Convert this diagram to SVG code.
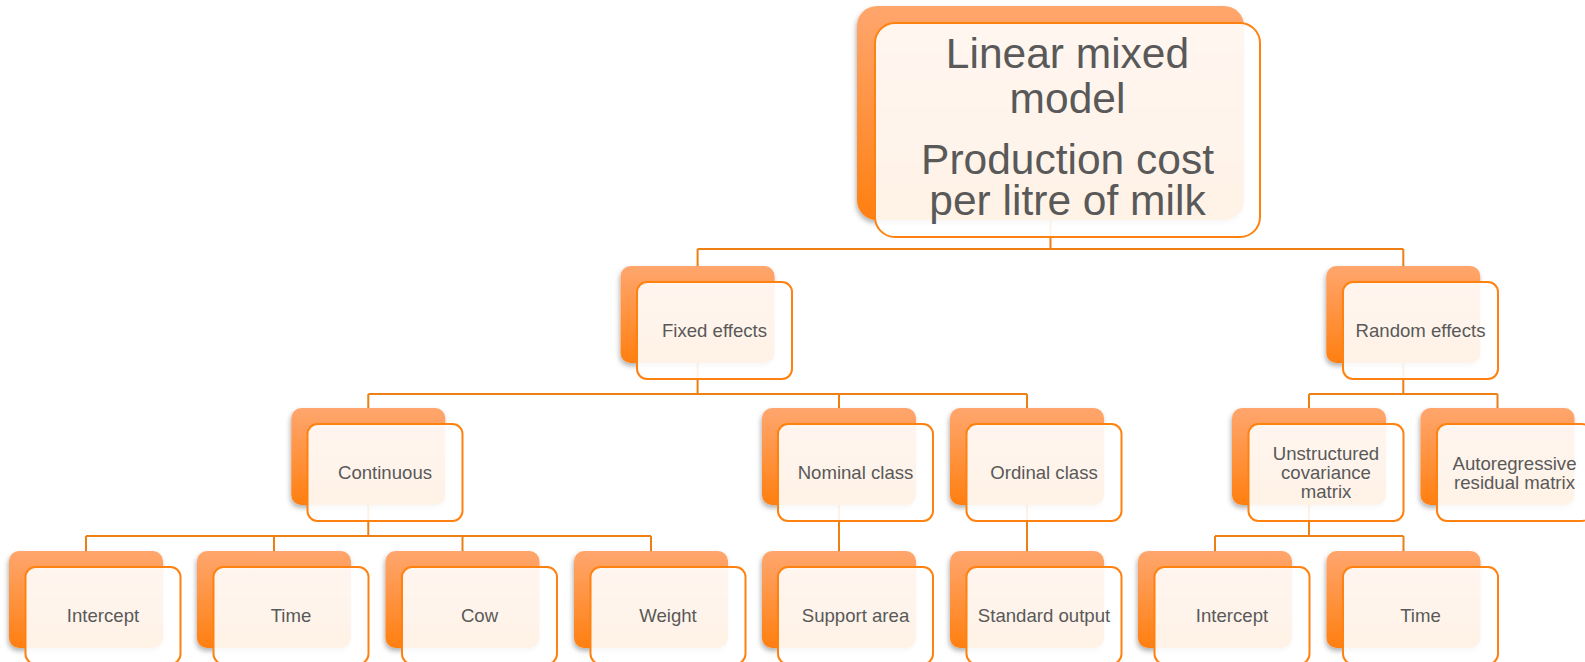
<svg xmlns="http://www.w3.org/2000/svg" width="1585" height="662" viewBox="0 0 1585 662">
<style>
.bk{fill:url(#og);filter:url(#sh)}
.fr{fill:#fff;fill-opacity:0.9;stroke:#FF8210;stroke-width:2}
.cn{fill:none;stroke:#EE7F12;stroke-width:2}
.t{font-family:"Liberation Sans",Arial,sans-serif;font-size:18.6px;fill:#595959;text-anchor:middle}
.tr{font-family:"Liberation Sans",Arial,sans-serif;font-size:42.5px;fill:#595959;text-anchor:middle}
</style>
<defs>
<linearGradient id="og" x1="0" y1="0" x2="0" y2="1">
<stop offset="0" stop-color="#FFA66E"/>
<stop offset="1" stop-color="#FF7F10"/>
</linearGradient>
<filter id="sh" x="-10%" y="-10%" width="120%" height="130%">
<feDropShadow dx="-1" dy="3" stdDeviation="2.5" flood-color="#000" flood-opacity="0.3"/>
</filter>
</defs>
<rect width="1585" height="662" fill="#fff"/>
<g id="connectors">
<path class="cn" d="M1050.5 220V249M697.6 249H1403.3M697.6 249V266M1403.3 249V266"/>
<path class="cn" d="M697.6 363V394M368.3 394H1027M368.3 394V408M839 394V408M1027 394V408"/>
<path class="cn" d="M1403.3 363V394M1309 394H1497.5M1309 394V408M1497.5 394V408"/>
<path class="cn" d="M368.3 505V536M86 536H651M86 536V551M274 536V551M462.5 536V551M651 536V551"/>
<path class="cn" d="M839 505V551M1027 505V551"/>
<path class="cn" d="M1309 505V536M1215 536H1403.5M1215 536V551M1403.5 536V551"/>
</g>
<g id="root">
<rect class="bk" x="857" y="6" width="387" height="214" rx="20"/>
<rect class="fr" x="875" y="23" width="385" height="214" rx="20"/>
<text class="tr" x="1067.5" y="68">Linear mixed</text>
<text class="tr" x="1067.5" y="113">model</text>
<text class="tr" x="1067.5" y="174">Production cost</text>
<text class="tr" x="1067.5" y="215">per litre of milk</text>
</g>
<g id="fixed">
<rect class="bk" x="620.6" y="266" width="154" height="97" rx="10"/>
<rect class="fr" x="637" y="282" width="155" height="97" rx="10"/>
<text class="t" x="714.5" y="337">Fixed effects</text>
</g>
<g id="random">
<rect class="bk" x="1326.3" y="266" width="154" height="97" rx="10"/>
<rect class="fr" x="1343" y="282" width="155" height="97" rx="10"/>
<text class="t" x="1420.5" y="337">Random effects</text>
</g>
<g id="continuous">
<rect class="bk" x="291.3" y="408" width="154" height="97" rx="10"/>
<rect class="fr" x="307.5" y="424" width="155" height="97" rx="10"/>
<text class="t" x="385" y="479">Continuous</text>
</g>
<g id="nominal">
<rect class="bk" x="762" y="408" width="154" height="97" rx="10"/>
<rect class="fr" x="778" y="424" width="155" height="97" rx="10"/>
<text class="t" x="855.5" y="479">Nominal class</text>
</g>
<g id="ordinal">
<rect class="bk" x="950" y="408" width="154" height="97" rx="10"/>
<rect class="fr" x="966.5" y="424" width="155" height="97" rx="10"/>
<text class="t" x="1044" y="479">Ordinal class</text>
</g>
<g id="unstructured">
<rect class="bk" x="1232" y="408" width="154" height="97" rx="10"/>
<rect class="fr" x="1248.5" y="424" width="155" height="97" rx="10"/>
<text class="t" x="1326" y="460">Unstructured</text>
<text class="t" x="1326" y="479">covariance</text>
<text class="t" x="1326" y="498">matrix</text>
</g>
<g id="autoregressive">
<rect class="bk" x="1420.5" y="408" width="154" height="97" rx="10"/>
<rect class="fr" x="1437" y="424" width="155" height="97" rx="10"/>
<text class="t" x="1514.5" y="470">Autoregressive</text>
<text class="t" x="1514.5" y="489">residual matrix</text>
</g>
<g id="intercept1">
<rect class="bk" x="9" y="551" width="154" height="97" rx="10"/>
<rect class="fr" x="25.5" y="567" width="155" height="97" rx="10"/>
<text class="t" x="103" y="622">Intercept</text>
</g>
<g id="time1">
<rect class="bk" x="197" y="551" width="154" height="97" rx="10"/>
<rect class="fr" x="213.5" y="567" width="155" height="97" rx="10"/>
<text class="t" x="291" y="622">Time</text>
</g>
<g id="cow">
<rect class="bk" x="385.5" y="551" width="154" height="97" rx="10"/>
<rect class="fr" x="402" y="567" width="155" height="97" rx="10"/>
<text class="t" x="479.5" y="622">Cow</text>
</g>
<g id="weight">
<rect class="bk" x="574" y="551" width="154" height="97" rx="10"/>
<rect class="fr" x="590.5" y="567" width="155" height="97" rx="10"/>
<text class="t" x="668" y="622">Weight</text>
</g>
<g id="support">
<rect class="bk" x="762" y="551" width="154" height="97" rx="10"/>
<rect class="fr" x="778" y="567" width="155" height="97" rx="10"/>
<text class="t" x="855.5" y="622">Support area</text>
</g>
<g id="standard">
<rect class="bk" x="950" y="551" width="154" height="97" rx="10"/>
<rect class="fr" x="966.5" y="567" width="155" height="97" rx="10"/>
<text class="t" x="1044" y="622">Standard output</text>
</g>
<g id="intercept2">
<rect class="bk" x="1138" y="551" width="154" height="97" rx="10"/>
<rect class="fr" x="1154.5" y="567" width="155" height="97" rx="10"/>
<text class="t" x="1232" y="622">Intercept</text>
</g>
<g id="time2">
<rect class="bk" x="1326.5" y="551" width="154" height="97" rx="10"/>
<rect class="fr" x="1343" y="567" width="155" height="97" rx="10"/>
<text class="t" x="1420.5" y="622">Time</text>
</g>
</svg>
